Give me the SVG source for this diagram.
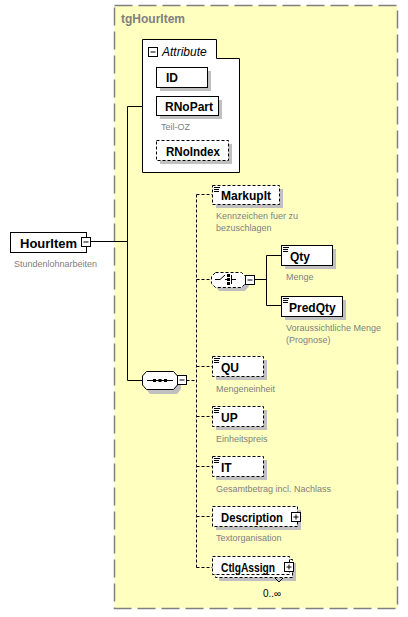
<svg xmlns="http://www.w3.org/2000/svg" width="408" height="617" viewBox="0 0 408 617">
<style>
.lbl{font-family:"Liberation Sans",Arial,sans-serif;font-size:12px;font-weight:bold;fill:#000}
.doc{font-family:"Liberation Sans",Arial,sans-serif;font-size:9px;fill:#808080}
.box{fill:#fff;stroke:#000;stroke-width:1}
.opt{stroke-dasharray:3,2}
.sh{fill:#c0c0c0}
.ln{fill:none;stroke:#000;stroke-width:1}
.dl{fill:none;stroke:#000;stroke-width:1;stroke-dasharray:3,2}
.ic{fill:none;stroke:#000;stroke-width:1}
</style>
<rect x="0" y="0" width="408" height="617" fill="#fff"/>
<g id="tgHourItem">
<rect x="114.5" y="5.5" width="283" height="603" fill="#ffffc0" stroke="#808080" stroke-width="1.5" stroke-dasharray="18,6"/>
<text x="121" y="23" font-family="Liberation Sans,Arial,sans-serif" font-size="12" font-weight="bold" fill="#808080">tgHourItem</text>
</g>
<g id="connectors">
<path class="ln" d="M90.5,241.5 H127.5 M127.5,106.5 V380.5 M127.5,106.5 H142.5 M127.5,380.5 H142.5"/>
<path class="dl" d="M186.5,380.5 H196.5 M196.5,194.5 V567.5 M196.5,194.5 H212.5 M196.5,279.5 H211.5 M196.5,366.5 H212.5 M196.5,416.5 H212.5 M196.5,466.5 H212.5 M196.5,516.5 H212.5 M196.5,567.5 H212.5"/>
<path class="ln" d="M254.5,279.5 H266.5 M266.5,255.5 V305.5 M266.5,255.5 H281.5 M266.5,305.5 H281.5"/>
</g>
<g id="Attribute">
<path d="M142.5,39.5 H216.5 V58.5 H239.5 V172.5 H142.5 Z" class="box"/>
<rect x="148.5" y="47.5" width="9" height="9" class="box"/>
<path class="ic" d="M150.5,52 H155.5"/>
<text x="162" y="56" font-family="Liberation Sans,Arial,sans-serif" font-size="12" font-style="italic">Attribute</text>
</g>
<g id="ID">
<rect x="160" y="71" width="51" height="20" class="sh"/>
<rect x="156.5" y="67.5" width="51" height="20" class="box"/>
<text x="166" y="82" class="lbl">ID</text>
</g>
<g id="RNoPart">
<rect x="160" y="100" width="62" height="19" class="sh"/>
<rect x="156.5" y="96.5" width="62" height="19" class="box"/>
<text x="165" y="111" class="lbl">RNoPart</text>
<text x="161" y="130" class="doc">Teil-OZ</text>
</g>
<g id="RNoIndex">
<rect x="160" y="144" width="72" height="20" class="sh"/>
<rect x="156.5" y="140.5" width="72" height="20" class="box opt"/>
<text x="166" y="156" class="lbl" textLength="54" lengthAdjust="spacingAndGlyphs">RNoIndex</text>
</g>
<g id="HourItem">
<rect x="10.5" y="232.5" width="76" height="20" class="box"/>
<text x="20" y="247.5" class="lbl" font-size="13" style="font-size:13px">HourItem</text>
<rect x="81.5" y="237.5" width="9" height="9" class="box"/>
<path class="ic" d="M83.5,242 H88.5"/>
<text x="14" y="267" class="doc">Stundenlohnarbeiten</text>
</g>
<g id="sequence">
<polygon points="146,375 150,375 177,375 181,379 181,389 177,394 150,394 146,389" class="sh"/>
<polygon points="142.5,376 146.5,371.5 173.5,371.5 177.5,376 177.5,385 173.5,389.5 146.5,389.5 142.5,385" class="box"/>
<path class="ic" d="M147,380.5 H173"/>
<rect x="153" y="379" width="3" height="3" fill="#000"/>
<rect x="158.5" y="379" width="3" height="3" fill="#000"/>
<rect x="164" y="379" width="3" height="3" fill="#000"/>
<rect x="177.5" y="375.5" width="9" height="9" class="box"/>
<path class="ic" d="M179.5,380 H184.5"/>
</g>
<g id="choice">
<path d="M219,276 H245 L249,280 V286 L245,291 H219 L215,286 V280 Z" class="sh"/>
<path d="M215.5,272.5 H241.5 L245.5,276.5 V283.5 L241.5,287.5 H215.5 L211.5,283.5 V276.5 Z" class="box opt"/>
<path class="ic" d="M215,279.5 H220 L225,275 M225,279.5 H228 M231.5,275 V284 M231.5,279.5 H236"/>
<rect x="227" y="274" width="3" height="3" fill="#000"/>
<rect x="227" y="278" width="3" height="3" fill="#000"/>
<rect x="227" y="282" width="3" height="3" fill="#000"/>
<rect x="245.5" y="275.5" width="9" height="9" class="box"/>
<path class="ic" d="M247.5,280 H252.5"/>
</g>
<g id="MarkupIt">
<rect x="216" y="189" width="67" height="19" class="sh"/>
<rect x="212.5" y="185.5" width="67" height="19" class="box opt"/>
<path class="ic" d="M214,187.5 H220 M214,189.5 H219 M214,191.5 H219"/>
<text x="221" y="200" class="lbl">MarkupIt</text>
<text x="216" y="219" class="doc">Kennzeichen fuer zu</text>
<text x="216" y="231" class="doc">bezuschlagen</text>
</g>
<g id="Qty">
<rect x="285" y="249" width="51" height="20" class="sh"/>
<rect x="281.5" y="245.5" width="51" height="20" class="box"/>
<path class="ic" d="M283,247.5 H289 M283,249.5 H288 M283,251.5 H288"/>
<text x="290" y="261" class="lbl">Qty</text>
<text x="286" y="280" class="doc">Menge</text>
</g>
<g id="PredQty">
<rect x="285" y="300" width="61" height="20" class="sh"/>
<rect x="281.5" y="296.5" width="61" height="20" class="box"/>
<path class="ic" d="M283,298.5 H289 M283,300.5 H288 M283,302.5 H288"/>
<text x="289" y="312" class="lbl">PredQty</text>
<text x="286" y="331" class="doc">Voraussichtliche Menge</text>
<text x="286" y="343" class="doc">(Prognose)</text>
</g>
<g id="QU">
<rect x="216" y="360" width="51" height="20" class="sh"/>
<rect x="212.5" y="356.5" width="51" height="20" class="box opt"/>
<path class="ic" d="M214,358.5 H220 M214,360.5 H219 M214,362.5 H219"/>
<text x="221" y="372" class="lbl">QU</text>
<text x="216" y="392" class="doc">Mengeneinheit</text>
</g>
<g id="UP">
<rect x="216" y="410" width="51" height="20" class="sh"/>
<rect x="212.5" y="406.5" width="51" height="20" class="box opt"/>
<path class="ic" d="M214,408.5 H220 M214,410.5 H219 M214,412.5 H219"/>
<text x="221" y="422" class="lbl">UP</text>
<text x="216" y="442" class="doc">Einheitspreis</text>
</g>
<g id="IT">
<rect x="216" y="460" width="51" height="20" class="sh"/>
<rect x="212.5" y="456.5" width="51" height="20" class="box opt"/>
<path class="ic" d="M214,458.5 H220 M214,460.5 H219 M214,462.5 H219"/>
<text x="221" y="472" class="lbl">IT</text>
<text x="216" y="492" class="doc">Gesamtbetrag incl. Nachlass</text>
</g>
<g id="Description">
<rect x="216" y="510" width="85" height="20" class="sh"/>
<rect x="212.5" y="506.5" width="85" height="20" class="box opt"/>
<text x="221" y="522" class="lbl" textLength="62" lengthAdjust="spacingAndGlyphs">Description</text>
<rect x="291.5" y="512.5" width="9" height="9" class="box"/>
<path class="ic" d="M293.5,517 H298.5 M296,514.5 V519.5"/>
<text x="216" y="541" class="doc">Textorganisation</text>
</g>
<g id="CtlgAssign">
<rect x="219" y="563" width="77" height="18" class="sh"/>
<rect x="215.5" y="559.5" width="77" height="18" class="box opt"/>
<rect x="212.5" y="556.5" width="77" height="18" class="box opt"/>
<text x="221" y="572" class="lbl" textLength="54" lengthAdjust="spacingAndGlyphs">CtlgAssign</text>
<rect x="284.5" y="562.5" width="9" height="9" class="box"/>
<path class="ic" d="M286.5,567 H291.5 M289,564.5 V569.5"/>
<path class="ic" d="M275,578 L279,582 L283,578"/>
<text x="263" y="597" font-family="Liberation Sans,Arial,sans-serif" font-size="10" fill="#000">0..∞</text>
</g>
</svg>
